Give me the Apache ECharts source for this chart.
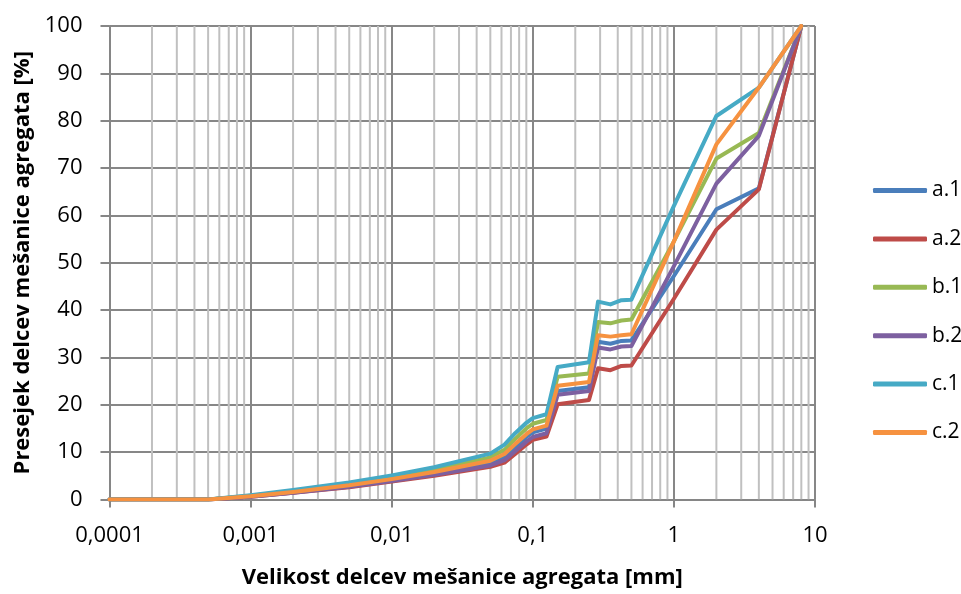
<!DOCTYPE html>
<html><head><meta charset="utf-8">
<script src="https://cdn.jsdelivr.net/npm/echarts@6/dist/echarts.min.js"></script>
<style>html,body{margin:0;padding:0;background:#fff}#c{width:961px;height:594px}</style>
</head><body><div id="c"></div>
<script>
const xValues = [0.0001, 0.0005, 0.001, 0.002, 0.005, 0.01, 0.02, 0.05, 0.063, 0.075, 0.09, 0.1, 0.125, 0.15, 0.25, 0.29, 0.355, 0.425, 0.5, 1, 2, 4, 8];
const seriesNames = ['a.1', 'a.2', 'b.1', 'b.2', 'c.1', 'c.2'];
const a1 = [0, 0, 0.7, 1.5, 2.9, 4.1, 5.5, 7.7, 8.9, 11.0, 13.2, 14.2, 15.0, 22.9, 23.7, 33.3, 32.9, 33.5, 33.6, 47.2, 61.3, 65.7, 100];
const a2 = [0, 0, 0.6, 1.4, 2.6, 3.8, 5.0, 6.9, 7.8, 9.6, 11.6, 12.6, 13.3, 20.1, 21.0, 27.7, 27.3, 28.2, 28.3, 42.4, 57.0, 65.5, 100];
const b1 = [0, 0, 0.8, 1.8, 3.3, 4.7, 6.3, 8.9, 10.5, 12.8, 15.0, 16.0, 16.8, 25.9, 26.6, 37.5, 37.2, 37.8, 38.0, 54.5, 72.0, 77.4, 100];
const b2 = [0, 0, 0.6, 1.4, 2.7, 3.9, 5.2, 7.2, 8.3, 10.2, 12.2, 13.2, 14.0, 22.1, 22.9, 32.1, 31.7, 32.3, 32.4, 49.3, 66.7, 76.8, 100];
const c1 = [0, 0, 0.9, 2.0, 3.6, 5.1, 6.8, 9.7, 11.6, 14.0, 16.2, 17.2, 18.0, 28.0, 29.0, 41.8, 41.2, 42.1, 42.2, 62.0, 81.0, 87.0, 100];
const c2 = [0, 0, 0.7, 1.6, 3.0, 4.3, 5.8, 8.2, 9.6, 11.7, 13.8, 14.8, 15.6, 24.0, 24.8, 34.7, 34.4, 34.7, 34.9, 54.5, 75.0, 87.0, 100];
const xTickLabels = ['0,0001', '0,001', '0,01', '0,1', '1', '10'];
const yTicks = [0, 10, 20, 30, 40, 50, 60, 70, 80, 90, 100];

const colors = ['#4A7EBB', '#BE4B48', '#98B954', '#7D60A0', '#46AAC5', '#F69240'];
const values = [a1, a2, b1, b2, c1, c2];
const FONT = '"Open Sans"';

const minorX = [];
for (let d = -4; d <= 0; d++) {
  for (let k = 2; k <= 9; k++) minorX.push(k * Math.pow(10, d));
}

const series = [{
  type: 'custom', z: 1, silent: true, animation: false, clip: true,
  data: minorX.map(v => [v]),
  encode: { x: 0 },
  renderItem: function (params, api) {
    const v = api.value(0);
    const p1 = api.coord([v, 0]);
    const p2 = api.coord([v, 100]);
    return {
      type: 'line',
      shape: { x1: p1[0], y1: p1[1], x2: p2[0], y2: p2[1] },
      style: { stroke: '#c0c0c0', lineWidth: 2 }
    };
  }
}];
values.forEach((v, i) => {
  series.push({
    name: seriesNames[i], type: 'line', z: 3 + i,
    data: v.map((y, j) => [xValues[j], y]),
    showSymbol: false, symbol: 'none',
    lineStyle: { color: colors[i], width: 4, join: 'round', cap: 'round' },
    itemStyle: { color: colors[i] },
    animation: false
  });
});

const chart = echarts.init(document.getElementById('c'), null, { renderer: 'canvas' });
chart.setOption({
  animation: false,
  backgroundColor: '#fff',
  grid: { left: 109.5, right: 146, top: 26, bottom: 94.5, containLabel: false },
  legend: {
    orient: 'vertical', left: 868, top: 175,
    itemWidth: 54, itemHeight: 5, itemGap: 27.4, icon: 'roundRect',
    data: seriesNames,
    textStyle: { fontFamily: FONT, fontSize: 21, color: '#000', lineHeight: 20 }
  },
  xAxis: {
    type: 'log', logBase: 10, min: 0.0001, max: 10,
    name: 'Velikost delcev mešanice agregata [mm]',
    nameLocation: 'middle', nameGap: 67,
    nameTextStyle: { fontFamily: FONT, fontSize: 22, fontWeight: 'bold', color: '#000' },
    axisLine: { show: true, lineStyle: { color: '#868686', width: 2 } },
    axisTick: { show: true, length: 8, inside: false, lineStyle: { color: '#868686', width: 2 } },
    axisLabel: {
      fontFamily: FONT, fontSize: 22, color: '#000', margin: 25,
      formatter: function (v) { return xTickLabels[Math.round(Math.log10(v)) + 4]; }
    },
    splitLine: { show: true, lineStyle: { color: '#878787', width: 2 } },
    minorTick: { show: false }, minorSplitLine: { show: false }
  },
  yAxis: {
    type: 'value', min: 0, max: 100, interval: 10,
    name: 'Presejek delcev mešanice agregata [%]',
    nameLocation: 'middle', nameGap: 74, nameRotate: 90,
    nameTextStyle: { fontFamily: FONT, fontSize: 22, fontWeight: 'bold', color: '#000' },
    axisLine: { show: true, lineStyle: { color: '#868686', width: 2 } },
    axisTick: { show: true, length: 9, inside: false, lineStyle: { color: '#868686', width: 2 } },
    axisLabel: {
      fontFamily: FONT, fontSize: 22, color: '#000', margin: 27,
      formatter: function (v) { return yTicks.indexOf(v) >= 0 ? String(v) : ''; }
    },
    splitLine: { show: true, lineStyle: { color: '#878787', width: 2 } }
  },
  series: series
});
</script>
</body></html>
